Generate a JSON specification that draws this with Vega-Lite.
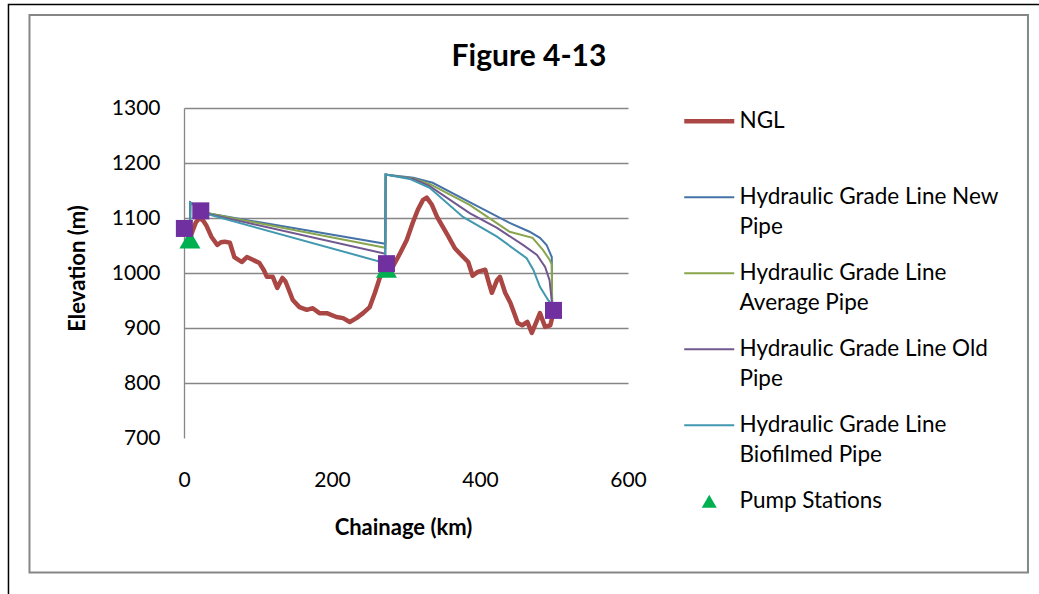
{
  "$schema": "https://vega.github.io/schema/vega-lite/v6.json",
  "width": 444,
  "height": 330,
  "autosize": {"type": "none"},
  "padding": {"left": 184, "top": 108, "right": 411, "bottom": 156},
  "background": "white",
  "config": {"font": "Lato", "view": {"stroke": null}},
  "title": {"text": "Figure 4-13", "font": "Lato", "fontSize": 30, "fontWeight": "bold", "color": "#000000", "anchor": "middle", "frame": "group", "dx": 123, "baseline": "alphabetic", "offset": -92},
  "datasets": {
    "ngl": [
      {"series": "NGL", "km": 8, "m": 1062}, {"series": "NGL", "km": 12, "m": 1078}, {"series": "NGL", "km": 16, "m": 1092}, {"series": "NGL", "km": 21, "m": 1100},
      {"series": "NGL", "km": 26, "m": 1095}, {"series": "NGL", "km": 30, "m": 1087}, {"series": "NGL", "km": 37, "m": 1066}, {"series": "NGL", "km": 45, "m": 1051},
      {"series": "NGL", "km": 50, "m": 1056}, {"series": "NGL", "km": 55, "m": 1057}, {"series": "NGL", "km": 62, "m": 1055}, {"series": "NGL", "km": 68, "m": 1029},
      {"series": "NGL", "km": 78, "m": 1020}, {"series": "NGL", "km": 85, "m": 1029}, {"series": "NGL", "km": 93, "m": 1024}, {"series": "NGL", "km": 102, "m": 1018},
      {"series": "NGL", "km": 108, "m": 1005}, {"series": "NGL", "km": 112, "m": 993}, {"series": "NGL", "km": 120, "m": 993}, {"series": "NGL", "km": 126, "m": 973},
      {"series": "NGL", "km": 133, "m": 991}, {"series": "NGL", "km": 137, "m": 985}, {"series": "NGL", "km": 140, "m": 975}, {"series": "NGL", "km": 147, "m": 951},
      {"series": "NGL", "km": 156, "m": 938}, {"series": "NGL", "km": 166, "m": 933}, {"series": "NGL", "km": 174, "m": 936}, {"series": "NGL", "km": 183, "m": 927},
      {"series": "NGL", "km": 193, "m": 927}, {"series": "NGL", "km": 206, "m": 920}, {"series": "NGL", "km": 215, "m": 918}, {"series": "NGL", "km": 224, "m": 911},
      {"series": "NGL", "km": 233, "m": 918}, {"series": "NGL", "km": 242, "m": 927}, {"series": "NGL", "km": 251, "m": 938}, {"series": "NGL", "km": 258, "m": 964},
      {"series": "NGL", "km": 265, "m": 993}, {"series": "NGL", "km": 273, "m": 1005}, {"series": "NGL", "km": 282, "m": 1011}, {"series": "NGL", "km": 292, "m": 1036},
      {"series": "NGL", "km": 301, "m": 1060}, {"series": "NGL", "km": 309, "m": 1091}, {"series": "NGL", "km": 316, "m": 1115}, {"series": "NGL", "km": 323, "m": 1133},
      {"series": "NGL", "km": 328, "m": 1137}, {"series": "NGL", "km": 335, "m": 1124}, {"series": "NGL", "km": 342, "m": 1102}, {"series": "NGL", "km": 348, "m": 1088},
      {"series": "NGL", "km": 357, "m": 1067}, {"series": "NGL", "km": 366, "m": 1045}, {"series": "NGL", "km": 376, "m": 1031}, {"series": "NGL", "km": 384, "m": 1020},
      {"series": "NGL", "km": 390, "m": 995}, {"series": "NGL", "km": 397, "m": 1002}, {"series": "NGL", "km": 407, "m": 1006}, {"series": "NGL", "km": 412, "m": 982},
      {"series": "NGL", "km": 416, "m": 964}, {"series": "NGL", "km": 423, "m": 987}, {"series": "NGL", "km": 427, "m": 993}, {"series": "NGL", "km": 434, "m": 964},
      {"series": "NGL", "km": 441, "m": 946}, {"series": "NGL", "km": 447, "m": 924}, {"series": "NGL", "km": 451, "m": 909}, {"series": "NGL", "km": 457, "m": 905},
      {"series": "NGL", "km": 464, "m": 911}, {"series": "NGL", "km": 470, "m": 891}, {"series": "NGL", "km": 477, "m": 914}, {"series": "NGL", "km": 481, "m": 927},
      {"series": "NGL", "km": 488, "m": 902}, {"series": "NGL", "km": 495, "m": 905}, {"series": "NGL", "km": 499, "m": 927}
    ],
    "hgl": [
      {"series": "Hydraulic Grade Line New Pipe", "km": 8, "m": 1062}, {"series": "Hydraulic Grade Line New Pipe", "km": 8.5, "m": 1128}, {"series": "Hydraulic Grade Line New Pipe", "km": 34, "m": 1108},
      {"series": "Hydraulic Grade Line New Pipe", "km": 272, "m": 1053}, {"series": "Hydraulic Grade Line New Pipe", "km": 272.5, "m": 1179}, {"series": "Hydraulic Grade Line New Pipe", "km": 310, "m": 1173},
      {"series": "Hydraulic Grade Line New Pipe", "km": 336, "m": 1164}, {"series": "Hydraulic Grade Line New Pipe", "km": 386, "m": 1129}, {"series": "Hydraulic Grade Line New Pipe", "km": 440, "m": 1091},
      {"series": "Hydraulic Grade Line New Pipe", "km": 467, "m": 1075}, {"series": "Hydraulic Grade Line New Pipe", "km": 481, "m": 1064}, {"series": "Hydraulic Grade Line New Pipe", "km": 490, "m": 1051},
      {"series": "Hydraulic Grade Line New Pipe", "km": 497, "m": 1029}, {"series": "Hydraulic Grade Line New Pipe", "km": 497.5, "m": 942},
      {"series": "Hydraulic Grade Line Average Pipe", "km": 8, "m": 1062}, {"series": "Hydraulic Grade Line Average Pipe", "km": 8.5, "m": 1128}, {"series": "Hydraulic Grade Line Average Pipe", "km": 34, "m": 1108},
      {"series": "Hydraulic Grade Line Average Pipe", "km": 272, "m": 1046}, {"series": "Hydraulic Grade Line Average Pipe", "km": 272.5, "m": 1179}, {"series": "Hydraulic Grade Line Average Pipe", "km": 310, "m": 1172},
      {"series": "Hydraulic Grade Line Average Pipe", "km": 333, "m": 1161}, {"series": "Hydraulic Grade Line Average Pipe", "km": 386, "m": 1124}, {"series": "Hydraulic Grade Line Average Pipe", "km": 440, "m": 1075},
      {"series": "Hydraulic Grade Line Average Pipe", "km": 471, "m": 1064}, {"series": "Hydraulic Grade Line Average Pipe", "km": 485, "m": 1042}, {"series": "Hydraulic Grade Line Average Pipe", "km": 494, "m": 1024},
      {"series": "Hydraulic Grade Line Average Pipe", "km": 497, "m": 1016}, {"series": "Hydraulic Grade Line Average Pipe", "km": 497.5, "m": 942},
      {"series": "Hydraulic Grade Line Old Pipe", "km": 8, "m": 1062}, {"series": "Hydraulic Grade Line Old Pipe", "km": 8.5, "m": 1128}, {"series": "Hydraulic Grade Line Old Pipe", "km": 34, "m": 1107},
      {"series": "Hydraulic Grade Line Old Pipe", "km": 272, "m": 1035}, {"series": "Hydraulic Grade Line Old Pipe", "km": 272.5, "m": 1179}, {"series": "Hydraulic Grade Line Old Pipe", "km": 310, "m": 1171},
      {"series": "Hydraulic Grade Line Old Pipe", "km": 332, "m": 1158}, {"series": "Hydraulic Grade Line Old Pipe", "km": 386, "m": 1109}, {"series": "Hydraulic Grade Line Old Pipe", "km": 423, "m": 1082},
      {"series": "Hydraulic Grade Line Old Pipe", "km": 458, "m": 1051}, {"series": "Hydraulic Grade Line Old Pipe", "km": 477, "m": 1033}, {"series": "Hydraulic Grade Line Old Pipe", "km": 488, "m": 1011},
      {"series": "Hydraulic Grade Line Old Pipe", "km": 494, "m": 987}, {"series": "Hydraulic Grade Line Old Pipe", "km": 497.5, "m": 942},
      {"series": "Hydraulic Grade Line Biofilmed Pipe", "km": 8, "m": 1062}, {"series": "Hydraulic Grade Line Biofilmed Pipe", "km": 8.5, "m": 1128}, {"series": "Hydraulic Grade Line Biofilmed Pipe", "km": 34, "m": 1106},
      {"series": "Hydraulic Grade Line Biofilmed Pipe", "km": 272, "m": 1018}, {"series": "Hydraulic Grade Line Biofilmed Pipe", "km": 272.5, "m": 1179}, {"series": "Hydraulic Grade Line Biofilmed Pipe", "km": 305, "m": 1171},
      {"series": "Hydraulic Grade Line Biofilmed Pipe", "km": 332, "m": 1155}, {"series": "Hydraulic Grade Line Biofilmed Pipe", "km": 377, "m": 1102}, {"series": "Hydraulic Grade Line Biofilmed Pipe", "km": 423, "m": 1066},
      {"series": "Hydraulic Grade Line Biofilmed Pipe", "km": 463, "m": 1027}, {"series": "Hydraulic Grade Line Biofilmed Pipe", "km": 472, "m": 1006}, {"series": "Hydraulic Grade Line Biofilmed Pipe", "km": 481, "m": 975},
      {"series": "Hydraulic Grade Line Biofilmed Pipe", "km": 492, "m": 951}, {"series": "Hydraulic Grade Line Biofilmed Pipe", "km": 497.5, "m": 942}
    ],
    "pumps": [
      {"series": "Pump Stations", "km": 8, "m": 1061},
      {"series": "Pump Stations", "km": 273.6, "m": 1008}
    ],
    "nodes": [
      {"km": 0.5, "m": 1081},
      {"km": 22.7, "m": 1113},
      {"km": 273.6, "m": 1017},
      {"km": 499.3, "m": 932}
    ]
  },
  "layer": [
    {
      "data": {"name": "ngl"},
      "mark": {"type": "line", "strokeWidth": 4.5, "strokeJoin": "round"},
      "encoding": {
        "x": {
          "field": "km", "type": "quantitative",
          "scale": {"domain": [0, 600], "nice": false, "zero": false},
          "axis": {"values": [0, 200, 400, 600], "format": "d", "title": "Chainage (km)", "titleFont": "Lato", "titleFontSize": 22, "titleFontWeight": "bold", "titleColor": "#000000", "titleX": 219, "titleY": 89, "titleAlign": "center", "titleBaseline": "middle", "labelFont": "Lato", "labelFontSize": 21, "labelColor": "#000000", "labelPadding": 31, "labelFlush": false, "ticks": false, "domain": false, "grid": false}
        },
        "y": {
          "field": "m", "type": "quantitative",
          "scale": {"domain": [700, 1300], "nice": false, "zero": false},
          "axis": {"values": [700, 800, 900, 1000, 1100, 1200, 1300], "format": "d", "title": "Elevation (m)", "titleFont": "Lato", "titleFontSize": 22, "titleFontWeight": "bold", "titleColor": "#000000", "titleAngle": -90, "titleX": -107, "titleY": 160, "titleAlign": "center", "titleBaseline": "middle", "labelFont": "Lato", "labelFontSize": 21, "labelColor": "#000000", "labelPadding": 24, "ticks": false, "domainColor": "#868686", "domainWidth": 1.3, "gridColor": "#868686", "gridWidth": 1.3, "gridOpacity": {"condition": {"test": "datum.value === 700", "value": 0}, "value": 1}}
        },
        "color": {
          "field": "series", "type": "nominal",
          "scale": {
            "domain": ["NGL", "Hydraulic Grade Line New Pipe", "Hydraulic Grade Line Average Pipe", "Hydraulic Grade Line Old Pipe", "Hydraulic Grade Line Biofilmed Pipe", "Pump Stations"],
            "range": ["#AA4643", "#4572A7", "#89A54E", "#71588F", "#4198AF", "#00B050"]
          },
          "legend": {
            "orient": "none", "legendX": 514, "legendY": 2, "title": null, "padding": 0,
            "symbolSize": 2500, "symbolType": "stroke",
            "labelFont": "Lato", "labelFontSize": 22.5, "labelColor": "#000000", "labelOffset": 19, "labelLimit": 400,
            "rowPadding": 23, "gridAlign": "all",
            "labelExpr": "datum.label === 'Hydraulic Grade Line New Pipe' ? ['Hydraulic Grade Line New', 'Pipe'] : datum.label === 'Hydraulic Grade Line Average Pipe' ? ['Hydraulic Grade Line', 'Average Pipe'] : datum.label === 'Hydraulic Grade Line Old Pipe' ? ['Hydraulic Grade Line Old', 'Pipe'] : datum.label === 'Hydraulic Grade Line Biofilmed Pipe' ? ['Hydraulic Grade Line', 'Biofilmed Pipe'] : datum.label",
            "encode": {
              "symbols": {"update": {
                "shape": {"signal": "datum.value === 'Pump Stations' ? 'triangle-up' : 'stroke'"},
                "size": {"signal": "datum.value === 'Pump Stations' ? 225 : 2500"},
                "strokeWidth": {"signal": "datum.value === 'NGL' ? 4.5 : (datum.value === 'Pump Stations' ? 0 : 2)"},
                "fill": {"signal": "datum.value === 'Pump Stations' ? '#00B050' : 'transparent'"},
                "stroke": {"scale": "color", "field": "value"},
                "opacity": {"value": 1}
              }},
              "labels": {"update": {"lineHeight": {"value": 30}}}
            }
          }
        }
      }
    },
    {
      "data": {"name": "hgl"},
      "mark": {"type": "line", "strokeWidth": 2},
      "encoding": {
        "x": {"field": "km", "type": "quantitative"},
        "y": {"field": "m", "type": "quantitative"},
        "color": {"field": "series", "type": "nominal", "legend": null}
      }
    },
    {
      "data": {"name": "pumps"},
      "mark": {"type": "point", "shape": "triangle-up", "filled": true, "size": 441, "opacity": 1},
      "encoding": {
        "x": {"field": "km", "type": "quantitative"},
        "y": {"field": "m", "type": "quantitative"},
        "color": {"field": "series", "type": "nominal", "legend": null}
      }
    },
    {
      "data": {"name": "nodes"},
      "mark": {"type": "point", "shape": "square", "filled": true, "size": 289, "opacity": 1, "color": "#7030A0"},
      "encoding": {
        "x": {"field": "km", "type": "quantitative"},
        "y": {"field": "m", "type": "quantitative"}
      }
    },
    {
      "data": {"values": [{"part": "chart area"}]},
      "mark": {"type": "rect", "fillOpacity": 0, "stroke": "#868686", "strokeWidth": 2},
      "encoding": {
        "x": {"datum": -208.8, "type": "quantitative", "axis": {"title": "Chainage (km)"}},
        "x2": {"datum": 1140.5},
        "y": {"datum": 1469, "type": "quantitative", "axis": {"title": "Elevation (m)"}},
        "y2": {"datum": 455.5}
      }
    },
    {
      "data": {"values": [{"part": "page"}]},
      "mark": {"type": "rect", "fillOpacity": 0, "stroke": "#000000", "strokeWidth": 1.5},
      "encoding": {
        "x": {"datum": -237.2, "type": "quantitative", "axis": {"title": "Chainage (km)"}},
        "x2": {"datum": 1190},
        "y": {"datum": 1488.2, "type": "quantitative", "axis": {"title": "Elevation (m)"}},
        "y2": {"datum": 380}
      }
    }
  ]
}
